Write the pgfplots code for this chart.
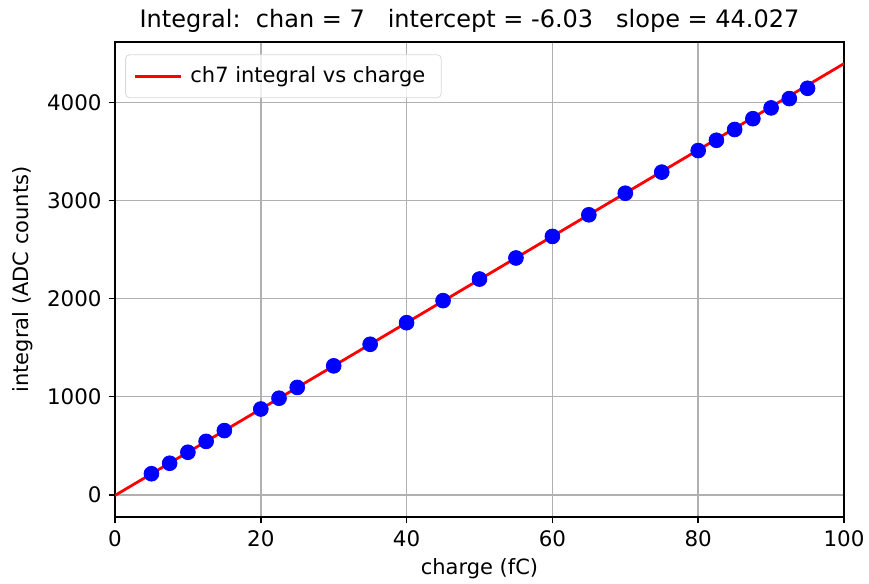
\documentclass[border=0pt]{standalone}
\usepackage{fontspec}
\setmainfont{DejaVu Sans}
\usepackage{pgfplots}
\pgfplotsset{compat=1.18}

\definecolor{mplgrid}{HTML}{B0B0B0}

\begin{document}
\begin{tikzpicture}
\useasboundingbox (0,0) rectangle (434.5pt,292pt);
\begin{axis}[
  at={(57.5pt,33.5pt)},
  anchor=south west,
  scale only axis,
  width=364.5pt,
  height=237.5pt,
  xmin=0, xmax=100,
  ymin=-226, ymax=4617,
  xtick={0,20,40,60,80,100},
  ytick={0,1000,2000,3000,4000},
  /pgf/number format/assume math mode=true,
  /pgf/number format/1000 sep={},
  tick label style={font=\fontsize{10.7}{12.5}\selectfont},
  label style={font=\fontsize{10.5}{12.5}\selectfont},
  xlabel={charge (fC)},
  ylabel={integral (ADC counts)},
  xlabel style={yshift=1pt},
  title={Integral:\ \ chan = 7\ \ \ intercept = -6.03\ \ \ slope = 44.027},
  title style={font=\fontsize{12}{14}\selectfont, yshift=-5pt, xshift=-5pt},
  grid=major,
  grid style={line width=0.73pt, mplgrid},
  axis line style={line width=0.73pt, black},
  tick style={line width=0.73pt, black},
  tick align=outside,
  major tick length=3.2pt,
  xtick pos=bottom, ytick pos=left,
  legend style={font=\fontsize{10.5}{12.5}\selectfont, draw=black!15, rounded corners=2pt,
    fill=white, fill opacity=0.8, text opacity=1, inner xsep=4pt, inner ysep=4pt,
    at={(0.014,0.974)}, anchor=north west},
  legend cell align=left,
  legend image code/.code={\draw[#1] (0pt,0pt) -- (23pt,0pt);},
  legend style={nodes={inner xsep=4pt}},
]
\addplot[red, line width=1.4pt] coordinates {
  (0,-6.03) (100,4396.67)
};
\addlegendentry{ch7 integral vs charge}
\addplot[only marks, mark=*, mark size=3.7pt, color=blue, forget plot] coordinates {
  (5,215) (7.5,322) (10,434) (12.5,545) (15,655)
  (20,875) (22.5,985) (25,1095) (30,1315) (35,1535)
  (40,1755) (45,1980) (50,2200) (55,2415) (60,2635)
  (65,2855) (70,3075) (75,3290) (80,3510) (82.5,3615)
  (85,3725) (87.5,3835) (90,3945) (92.5,4040) (95,4145)
};
\end{axis}
\end{tikzpicture}
\end{document}
